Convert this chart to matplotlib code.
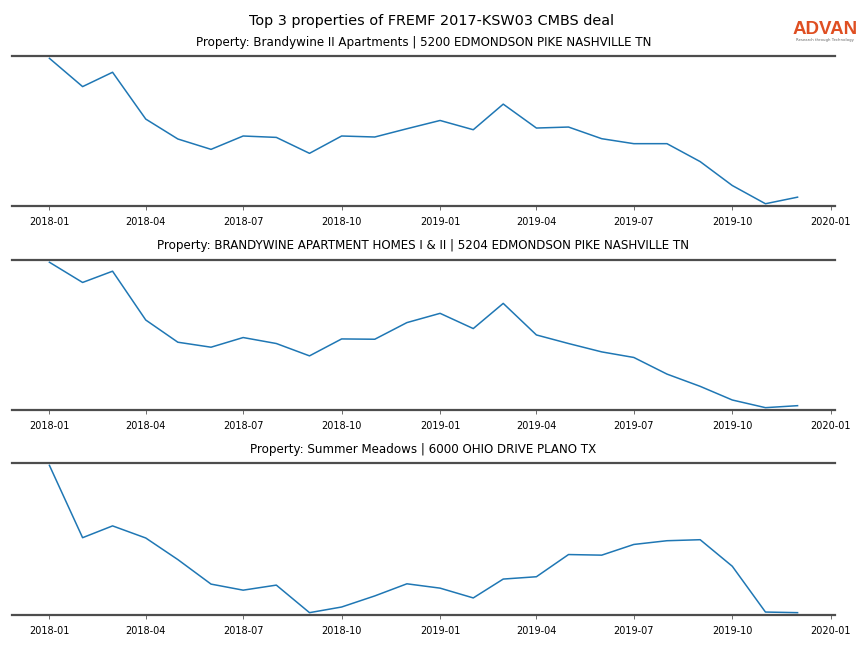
import numpy as np
import pandas as pd
import matplotlib
matplotlib.use('Agg')
import matplotlib.pyplot as plt
import matplotlib.dates as mdates

# monthly series, 2018-01 .. 2019-12 (no y scale shown, relative values)
months = pd.date_range('2018-01-01', '2019-12-01', freq='MS')

titles = [
    'Property: Brandywine II Apartments | 5200 EDMONDSON PIKE NASHVILLE TN',
    'Property: BRANDYWINE APARTMENT HOMES I & II | 5204 EDMONDSON PIKE NASHVILLE TN',
    'Property: Summer Meadows | 6000 OHIO DRIVE PLANO TX',
]

brandywine_ii = [147.4, 119, 133.4, 86.4, 66.4, 56, 69.4, 68, 52, 69.4, 68.4, 76.7,
                 85, 75.7, 101.4, 77.4, 78.4, 66.7, 61.7, 61.7, 43.7, 19.7, 1.4, 8]
brandywine_homes = [147, 126.7, 138, 89, 66.7, 61.7, 71.4, 65.4, 53, 70, 69.7, 86.4,
                    95.7, 80.4, 105.7, 74, 65.4, 57, 51.4, 34.7, 22.4, 8.7, 1, 3]
summer_meadows = [148, 76.3, 88, 76, 54.6, 30.3, 24.3, 29.3, 2, 7.6, 18.6, 30.6,
                  26.3, 16.6, 35.3, 37.6, 59.6, 59, 69.6, 73.3, 74.3, 48, 2.6, 2]

series = [brandywine_ii, brandywine_homes, summer_meadows]

fig = plt.figure(figsize=(8.64, 6.48), dpi=100)

# axes boxes [left, bottom, width, height] in figure fraction
boxes = [
    [0.0139, 0.682, 0.9525, 0.2316],
    [0.0139, 0.3673, 0.9525, 0.2316],
    [0.0139, 0.0509, 0.9525, 0.2346],
]

for box, title, vals in zip(boxes, titles, series):
    ax = fig.add_axes(box)
    ax.plot(months, vals, color='#1f77b4', linewidth=1.1)
    ax.margins(x=0.05, y=0.016)
    ax.set_title(title, fontsize=8.6, pad=7.5)
    for side in ['left', 'right']:
        ax.spines[side].set_visible(False)
    for side in ['top', 'bottom']:
        ax.spines[side].set_color('#4d4d4d')
        ax.spines[side].set_linewidth(1.6)
    ax.set_yticks([])
    ax.xaxis.set_major_locator(mdates.MonthLocator(bymonth=[1, 4, 7, 10]))
    ax.xaxis.set_major_formatter(mdates.DateFormatter('%Y-%m'))
    ax.tick_params(axis='x', labelsize=7, length=3, width=0.6, color='#555555', pad=5)

fig.suptitle('Top 3 properties of FREMF 2017-KSW03 CMBS deal', fontsize=10.4, y=0.979)

# logo
fig.text(0.9545, 0.954, 'ADVAN', fontsize=13.5, color='#df4f22', weight='bold',
         family='Liberation Sans', ha='center', va='center')
fig.text(0.9545, 0.939, 'Research through Technology', fontsize=2.8, color='#666666',
         ha='center', va='center')

fig.savefig('out.png', dpi=100)
